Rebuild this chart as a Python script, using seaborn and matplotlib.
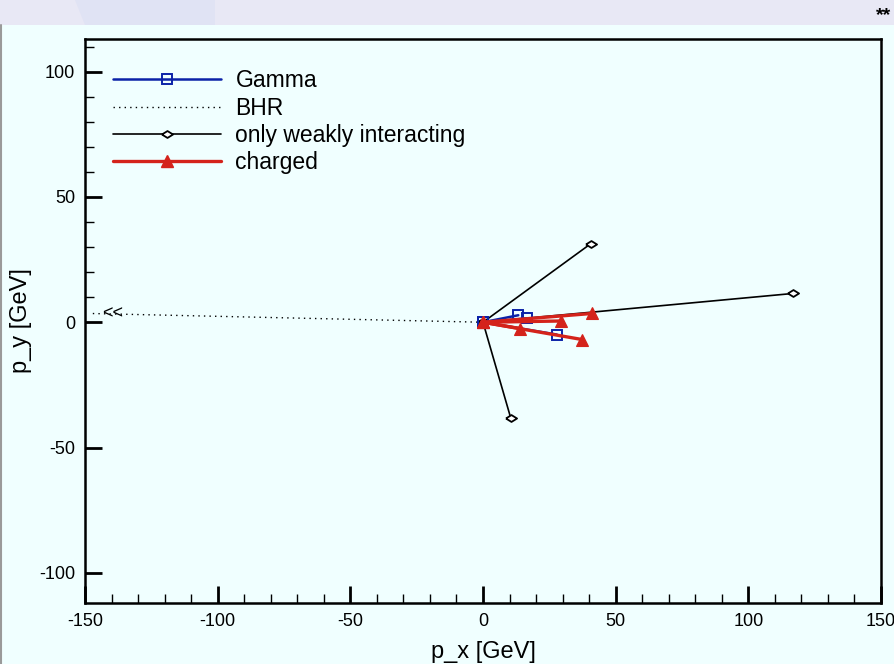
import numpy as np
import pandas as pd
import matplotlib
matplotlib.use("Agg")
import matplotlib.pyplot as plt
from matplotlib.lines import Line2D
from matplotlib.patches import Rectangle, Polygon
from matplotlib.ticker import FixedLocator, MultipleLocator
import seaborn as sns

# ---- data (vector end points, all vectors start at the origin) ----
gamma_px = [13.3, 16.5, 27.8]
gamma_py = [2.8, 1.5, -4.9]
charged_px = [13.9, 29.4, 41.0, 37.4]
charged_py = [-2.5, 0.5, 3.5, -6.9]
weak_px = [40.7, 117.0, 10.4]
weak_py = [31.4, 11.5, -38.0]
bhr_px = [-148.0]
bhr_py = [3.5]
bhr_arrow_x = [-139.5]

x_ticks = [-150, -100, -50, 0, 50, 100, 150]
y_ticks = [-100, -50, 0, 50, 100]
y_minor = [10, 20, 30, 40, 60, 70, 80, 90, 110]
legend_labels = ["Gamma", "BHR", "only weakly interacting", "charged"]


def vectors(px, py):
    rows = []
    for i, (x, y) in enumerate(zip(px, py)):
        rows.append({"px": 0.0, "py": 0.0, "vec": i})
        rows.append({"px": x, "py": y, "vec": i})
    return pd.DataFrame(rows)


BG = "#F0FFFF"
BLUE = "#0B22A8"
RED = "#D4231B"

sns.set_theme(style="ticks")
plt.rcParams["font.family"] = ["Liberation Sans", "DejaVu Sans"]
plt.rcParams["axes.unicode_minus"] = False
plt.rcParams["text.color"] = "black"
plt.rcParams["axes.labelcolor"] = "black"
plt.rcParams["xtick.color"] = "black"
plt.rcParams["ytick.color"] = "black"

fig = plt.figure(figsize=(8.94, 6.64), dpi=100)
fig.patch.set_facecolor(BG)

# header band
fig.patches.append(Rectangle((0, 1 - 25 / 664), 1, 25 / 664, transform=fig.transFigure,
                             facecolor="#E8E8F5", edgecolor="none", zorder=0))
fig.patches.append(Polygon([(75 / 894, 1), (215 / 894, 1), (215 / 894, 1 - 25 / 664),
                            (85 / 894, 1 - 25 / 664)], closed=True, transform=fig.transFigure,
                           facecolor="#E0E3F4", edgecolor="none", zorder=0))
fig.lines.append(Line2D([0.5 / 894, 0.5 / 894], [0, 1 - 25 / 664], transform=fig.transFigure,
                        color="#9A9A9A", lw=1.5))
fig.text(891 / 894, 1 - 16 / 664, "**", ha="right", va="center", fontsize=14,
         fontweight="bold", color="black")

ax = fig.add_axes([85 / 894, 1 - 603 / 664, (881 - 85) / 894, (603 - 39) / 664])
ax.set_facecolor(BG)

diamond = [(-1, 0), (0, 0.62), (1, 0), (0, -0.62), (-1, 0)]

# BHR dotted vector
sns.lineplot(data=vectors(bhr_px, bhr_py), x="px", y="py", units="vec", estimator=None,
             sort=False, ax=ax, color="black", lw=1.0, linestyle=(0, (1, 3)), zorder=2)
for bx, by, ax_x in zip(bhr_px, bhr_py, bhr_arrow_x):
    ax.text(ax_x, by * ax_x / bx, "<<", ha="center", va="center", fontsize=13,
            family="Liberation Sans", color="black", zorder=3)

# only weakly interacting
sns.lineplot(data=vectors(weak_px, weak_py), x="px", y="py", units="vec", estimator=None,
             sort=False, ax=ax, color="black", lw=1.2, marker=diamond, markersize=8,
             markerfacecolor="white", markeredgecolor="black", markeredgewidth=1.3, zorder=3)

# gamma
sns.lineplot(data=vectors(gamma_px, gamma_py), x="px", y="py", units="vec", estimator=None,
             sort=False, ax=ax, color=BLUE, lw=1.8, marker="s", markersize=7,
             markerfacecolor="none", markeredgecolor=BLUE, markeredgewidth=1.4, zorder=4)

# charged
sns.lineplot(data=vectors(charged_px, charged_py), x="px", y="py", units="vec", estimator=None,
             sort=False, ax=ax, color=RED, lw=2.4, marker="^", markersize=8.5,
             markerfacecolor=RED, markeredgecolor=RED, markeredgewidth=0.8, zorder=5)

ax.set_xlim(-150, 150)
ax.set_ylim(-112, 113)
ax.set_xticks(x_ticks)
ax.set_yticks(y_ticks)
ax.xaxis.set_minor_locator(MultipleLocator(10))
ax.yaxis.set_minor_locator(FixedLocator(y_minor))
ax.tick_params(which="major", direction="in", length=12, width=2.0, labelsize=13,
               color="black", labelcolor="black", pad=7)
ax.tick_params(which="minor", direction="in", length=6.5, width=1.0, color="black")
for s in ax.spines.values():
    s.set_visible(True)
    s.set_linewidth(1.8)
    s.set_color("black")

ax.set_xlabel("p_x [GeV]", fontsize=17, labelpad=8, color="black")
ax.set_ylabel("p_y [GeV]", fontsize=17, labelpad=5, color="black")

handles = [
    Line2D([], [], color=BLUE, lw=1.8, marker="s", markersize=7, markerfacecolor="none",
           markeredgecolor=BLUE, markeredgewidth=1.4),
    Line2D([], [], color="black", lw=1.0, linestyle=(0, (1, 3))),
    Line2D([], [], color="black", lw=1.2, marker=diamond, markersize=8,
           markerfacecolor="white", markeredgecolor="black", markeredgewidth=1.3),
    Line2D([], [], color=RED, lw=2.4, marker="^", markersize=8.5, markerfacecolor=RED,
           markeredgecolor=RED),
]
leg = ax.legend(handles, legend_labels, loc="upper left", bbox_to_anchor=(0.035, 0.946),
                frameon=False, fontsize=16.5, handlelength=4.7, handletextpad=0.65,
                labelspacing=0.18, borderpad=0, borderaxespad=0, numpoints=1)
for t in leg.get_texts():
    t.set_color("black")

fig.savefig("out.png", dpi=100, facecolor=BG)
